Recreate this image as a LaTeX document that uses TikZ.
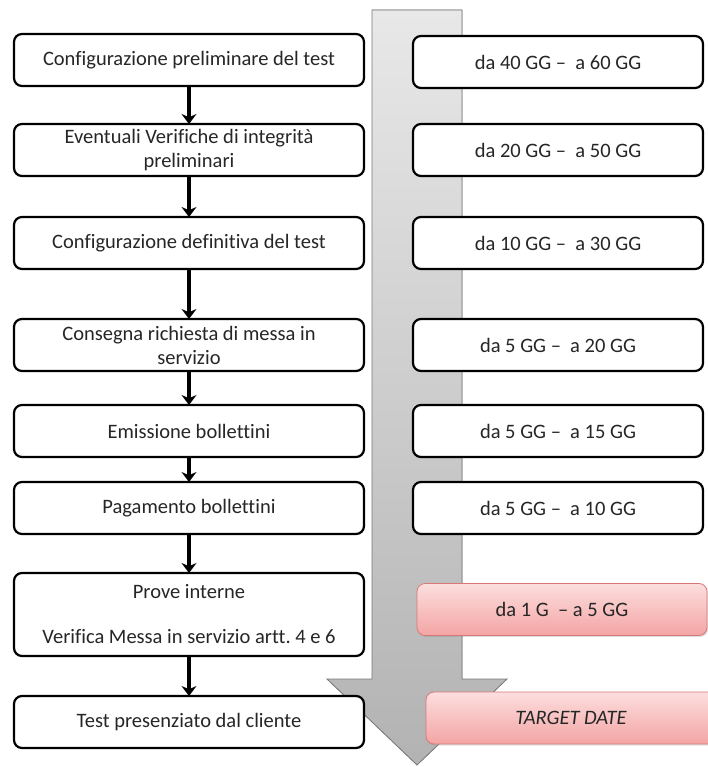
\documentclass[tikz,border=0pt]{standalone}
\usepackage{fontspec}
\setmainfont[Ligatures=NoCommon]{Carlito}
\usetikzlibrary{arrows.meta, positioning, shadows}
\definecolor{shaftgray}{RGB}{120,120,120}
\definecolor{pinktop}{RGB}{252,222,222}
\definecolor{pinkbottom}{RGB}{244,164,164}
\definecolor{pinkline}{RGB}{214,120,120}
\newcommand{\boxfont}{\fontsize{20.5}{24}\selectfont}

\begin{document}
\begin{tikzpicture}[
        x=1pt, y=-1pt,
        stepbox/.style={rectangle, rounded corners=8pt, draw=black, line width=2.2pt, outer sep=0pt, fill=white, minimum width=350pt, minimum height=52pt, inner sep=2pt, align=center, font=\boxfont, text=black!85},
        timebox/.style={stepbox, minimum width=290pt},
        hotbox/.style={timebox, draw=pinkline, line width=0.8pt, top color=pinktop, bottom color=pinkbottom, drop shadow={opacity=0.25, shadow xshift=1pt, shadow yshift=-1.5pt}},
        flow/.style={line width=3.5pt, -{Stealth[length=10pt, width=15pt]}}
    ]
        \useasboundingbox (0,0) rectangle (707,767);

        \fill[top color=black!9, bottom color=black!30, draw=shaftgray, line width=0.8pt]
            (372,10) -- (462,10) -- (462,679) -- (507,679) -- (417,765) -- (327,679) -- (372,679) -- cycle;

        \node[stepbox] (c1) at (189,60) {Configurazione preliminare del test};
        \node[stepbox, below=38pt of c1] (c2) {Eventuali Verifiche di integrità\\preliminari};
        \node[stepbox, below=41pt of c2] (c3) {Configurazione definitiva del test};
        \node[stepbox, below=50pt of c3] (c4) {Consegna richiesta di messa in\\servizio};
        \node[stepbox, below=34pt of c4] (c5) {Emissione bollettini};
        \node[stepbox, below=25pt of c5] (c6) {Pagamento bollettini};
        \node[stepbox, minimum height=83pt, below=39pt of c6] (c7) {Prove interne\\[21pt]Verifica Messa in servizio artt.\ 4 e 6};
        \node[stepbox, below=40pt of c7] (c8) {Test presenziato dal cliente};

        \node[timebox, right=49pt of c1, yshift=-2pt] (t1) {da 40 GG –\ \ a 60 GG};
        \node[timebox, right=49pt of c2] (t2) {da 20 GG –\ \ a 50 GG};
        \node[timebox, right=49pt of c3] (t3) {da 10 GG – \ a 30 GG};
        \node[timebox, right=49pt of c4] (t4) {da 5 GG –\ \ a 20 GG};
        \node[timebox, right=49pt of c5] (t5) {da 5 GG –\ \ a 15 GG};
        \node[timebox, right=49pt of c6] (t6) {da 5 GG –\ \ a 10 GG};
        \node[hotbox, right=53pt of c7, yshift=5pt] (t7) {da 1 G \ – a 5 GG};
        \node[hotbox, right=62pt of c8, yshift=4pt] (t8) {\itshape TARGET DATE};

        \draw[flow] (c1) -- (c2);
        \draw[flow] (c2) -- (c3);
        \draw[flow] (c3) -- (c4);
        \draw[flow] (c4) -- (c5);
        \draw[flow] (c5) -- (c6);
        \draw[flow] (c6) -- (c7);
        \draw[flow] (c7) -- (c8);
    \end{tikzpicture}
\end{document}
